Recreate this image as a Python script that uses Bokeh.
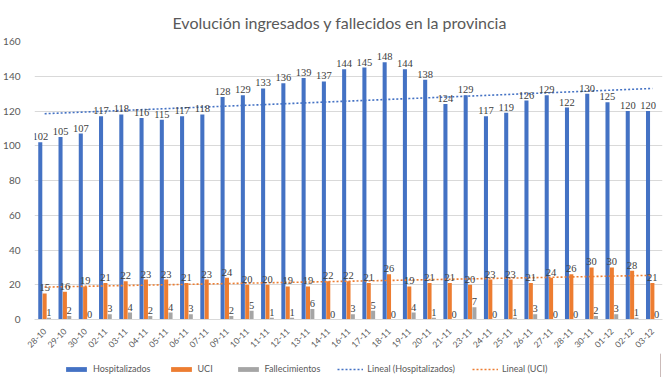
import numpy as np
from bokeh.plotting import figure
from bokeh.layouts import column
from bokeh.models import (ColumnDataSource, LabelSet, Legend, LegendItem,
                          FactorRange, SingleIntervalTicker)
from bokeh.transform import dodge
from bokeh.embed import file_html
from bokeh.resources import INLINE

dates = ["28-10", "29-10", "30-10", "02-11", "03-11", "04-11", "05-11", "06-11",
         "07-11", "09-11", "10-11", "11-11", "12-11", "13-11", "14-11", "16-11",
         "17-11", "18-11", "19-11", "20-11", "21-11", "23-11", "24-11", "25-11",
         "26-11", "27-11", "28-11", "30-11", "01-12", "02-12", "03-12"]
hosp = [102, 105, 107, 117, 118, 116, 115, 117, 118, 128, 129, 133, 136, 139, 137,
        144, 145, 148, 144, 138, 124, 129, 117, 119, 126, 129, 122, 130, 125, 120, 120]
uci = [15, 16, 19, 21, 22, 23, 23, 21, 23, 24, 20, 20, 19, 19, 22, 22, 21, 26, 19,
       21, 21, 20, 23, 23, 21, 24, 26, 30, 30, 28, 21]
fall = [1, 2, 0, 3, 4, 2, 4, 3, None, 2, 5, 1, 1, 6, 0, 3, 5, 0, 4, 1, 0, 7, 0, 1,
        3, 0, 0, 2, 3, 1, 0]

idx = np.arange(len(dates))
trend_h = np.polyval(np.polyfit(idx, hosp, 1), idx)
trend_u = np.polyval(np.polyfit(idx, uci, 1), idx)

src = ColumnDataSource(dict(x=dates, hosp=hosp, uci=uci,
                            th=list(trend_h), tu=list(trend_u),
                            hosp_t=[str(v) for v in hosp],
                            uci_t=[str(v) for v in uci]))
fx = [d for d, v in zip(dates, fall) if v is not None]
fv = [v for v in fall if v is not None]
fsrc = ColumnDataSource(dict(x=fx, fall=fv, fall_t=[str(v) for v in fv]))

BLUE = "#4472C4"
ORANGE = "#ED7D31"
GRAY = "#A5A5A5"
TXT = "#404040"

p = figure(x_range=FactorRange(*dates), y_range=(0, 160),
           frame_width=628, frame_height=278,
           output_backend="svg", toolbar_location=None,
           title="Evolución ingresados y fallecidos en la provincia",
           min_border_left=32, min_border_right=10, min_border_top=40,
           min_border_bottom=32)
p.title.align = "left"
p.title.offset = 138
p.title.text_font = "Lato"
p.title.text_font_size = "16px"
p.title.text_font_style = "normal"
p.title.text_color = "#595959"
p.title.standoff = 20

off = 0.215
w = 0.2
p.vbar(x=dodge("x", -off, range=p.x_range), top="hosp", width=w, source=src,
       fill_color=BLUE, line_color=None)
p.vbar(x=dodge("x", 0, range=p.x_range), top="uci", width=w, source=src,
       fill_color=ORANGE, line_color=None)
p.vbar(x=dodge("x", off, range=p.x_range), top="fall", width=w, source=fsrc,
       fill_color=GRAY, line_color=None)

p.line(x="x", y="th", source=src, line_color=BLUE, line_width=1.6, line_dash="2 2")
p.line(x="x", y="tu", source=src, line_color=ORANGE, line_width=1.6, line_dash="2 2")

lab_kw = dict(text_font="Lato", text_font_size="10.5px", text_color=TXT,
              text_align="center", text_baseline="bottom", y_offset=2)
p.add_layout(LabelSet(x=dodge("x", -off, range=p.x_range), y="hosp", text="hosp_t",
                      source=src, **lab_kw))
p.add_layout(LabelSet(x=dodge("x", 0, range=p.x_range), y="uci", text="uci_t",
                      source=src, **lab_kw))
p.add_layout(LabelSet(x=dodge("x", off, range=p.x_range), y="fall", text="fall_t",
                      source=fsrc, **lab_kw))

p.yaxis.ticker = SingleIntervalTicker(interval=20)
p.yaxis.axis_line_color = None
p.yaxis.major_tick_line_color = None
p.yaxis.minor_tick_line_color = None
p.yaxis.major_label_text_font = "Lato"
p.yaxis.major_label_text_font_size = "10px"
p.yaxis.major_label_text_color = "#595959"
p.yaxis.major_label_standoff = 8

p.xaxis.axis_line_color = "#D9D9D9"
p.xaxis.major_tick_line_color = None
p.xaxis.minor_tick_line_color = None
p.xaxis.major_label_orientation = 0.785
p.xaxis.major_label_text_font = "Lato"
p.xaxis.major_label_text_font_size = "8.5px"
p.xaxis.major_label_text_color = "#595959"
p.xaxis.major_label_standoff = 4

p.xgrid.grid_line_color = None
p.ygrid.grid_line_color = "#D9D9D9"
p.outline_line_color = None

# legend strip below the chart (proxy renderers sit outside the visible range)
q = figure(width=670, height=27, x_range=(0, 1), y_range=(0, 1),
           output_backend="svg", toolbar_location=None,
           min_border=0)
q.axis.visible = False
q.grid.visible = False
q.outline_line_color = None
e = ColumnDataSource(dict(x=[10], y=[10]))
gh = q.vbar(x="x", top="y", width=0.1, source=e, fill_color=BLUE, line_color=None)
gu = q.vbar(x="x", top="y", width=0.1, source=e, fill_color=ORANGE, line_color=None)
gf = q.vbar(x="x", top="y", width=0.1, source=e, fill_color=GRAY, line_color=None)
gth = q.line(x="x", y="y", source=e, line_color=BLUE, line_width=1.6, line_dash="2 2")
gtu = q.line(x="x", y="y", source=e, line_color=ORANGE, line_width=1.6, line_dash="2 2")

legend = Legend(items=[
    LegendItem(label="Hospitalizados", renderers=[gh]),
    LegendItem(label="UCI", renderers=[gu]),
    LegendItem(label="Fallecimientos", renderers=[gf]),
    LegendItem(label="Lineal (Hospitalizados)", renderers=[gth]),
    LegendItem(label="Lineal (UCI)", renderers=[gtu]),
], orientation="horizontal", location=(29, 6))
legend.label_text_font = "Lato"
legend.label_text_font_size = "9px"
legend.label_text_color = "#595959"
legend.glyph_width = 26
legend.glyph_height = 6
legend.spacing = 17
legend.label_standoff = 4
legend.border_line_color = None
legend.background_fill_alpha = 0
legend.padding = 2
legend.margin = 0
q.add_layout(legend, "center")

layout = column(p, q, spacing=0)
open("out.html", "w").write(file_html(layout, INLINE))
